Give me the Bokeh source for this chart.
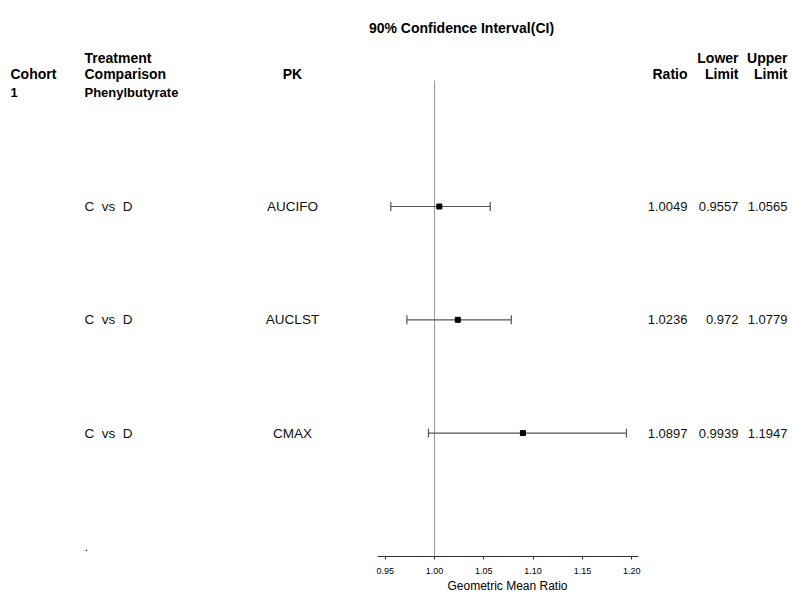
import math

from bokeh.plotting import figure
from bokeh.models import (ColumnDataSource, Range1d, LinearAxis, FixedTicker,
                          NumeralTickFormatter, Title)
from bokeh.core.properties import value
from bokeh.embed import file_html
from bokeh.resources import INLINE

# ---- data -------------------------------------------------------------
cohort = "1"
group_label = "Phenylbutyrate"
comparisons = ["C\u00a0\u00a0vs\u00a0\u00a0D", "C\u00a0\u00a0vs\u00a0\u00a0D", "C\u00a0\u00a0vs\u00a0\u00a0D"]
pk_params = ["AUCIFO", "AUCLST", "CMAX"]
ratio = [1.0049, 1.0236, 1.0897]
lower = [0.9557, 0.972, 0.9939]
upper = [1.0565, 1.0779, 1.1947]
rows = [1, 2, 3]          # row index of each comparison (0 = group header)
trailer_row = 4           # empty trailing row, printed as "."
ticks = [0.95, 1.00, 1.05, 1.10, 1.15, 1.20]
axis_bounds = (0.942, 1.207)
ref_value = 1.0

# ---- layout -----------------------------------------------------------
W, H = 793, 593
BOTTOM = 37                 # room for the ratio axis
FRAME_H = H - BOTTOM
PX_PER_UNIT = 986.0         # horizontal scale of the ratio axis
X_AT_ONE = 434.0            # pixel column of ratio == 1
ROW0_PX = 206.0 - 113.3     # pixel line of row 0
ROW_STEP = 113.3
FONT = "Liberation Sans"

p = figure(width=W, height=H, output_backend="svg", toolbar_location=None,
           x_range=Range1d(0, W), y_range=Range1d(FRAME_H, 0),
           x_axis_type=None, y_axis_type=None,
           min_border=0, min_border_bottom=BOTTOM)
p.outline_line_color = None
p.background_fill_color = "white"
p.border_fill_color = "white"

p.extra_x_ranges = {"ratio": Range1d(1 - X_AT_ONE / PX_PER_UNIT,
                                     1 + (W - X_AT_ONE) / PX_PER_UNIT)}
p.extra_y_ranges = {"rows": Range1d((FRAME_H - ROW0_PX) / ROW_STEP,
                                    -ROW0_PX / ROW_STEP)}


def label(x, y, s, size="14px", bold=True, align="left", baseline="alphabetic"):
    p.text(x=[x], y=[y], text=[s], text_font=value(FONT), text_font_size=size,
           text_font_style="bold" if bold else "normal", text_align=align,
           text_baseline=baseline, text_color="black")


# ---- column headers ---------------------------------------------------
label(461, 27, "90% Confidence Interval(CI)", align="center")
label(10, 73, "Cohort")
label(84, 57, "Treatment")
label(84, 73, "Comparison")
label(292, 73, "PK", align="center")
label(687, 73, "Ratio", align="right")
label(738, 57, "Lower", align="right")
label(738, 73, "Limit", align="right")
label(787, 57, "Upper", align="right")
label(787, 73, "Limit", align="right")

# ---- group header row and trailing row --------------------------------
for x, s in [(10, cohort), (84, group_label)]:
    p.text(x=[x], y=[-0.01], text=[s], y_range_name="rows", text_font=value(FONT),
           text_font_size="13px", text_font_style="bold", text_baseline="middle",
           text_color="black")
p.text(x=[84], y=[trailer_row], text=["."], y_range_name="rows",
       text_font=value(FONT), text_font_size="13px", text_baseline="middle",
       text_color="black")

# ---- table body ---------------------------------------------------------
src = ColumnDataSource(dict(
    row=rows, comp=comparisons, pk=pk_params,
    ratio=ratio, lower=lower, upper=upper,
    ratio_txt=[f"{v:g}" for v in ratio],
    lower_txt=[f"{v:g}" for v in lower],
    upper_txt=[f"{v:g}" for v in upper],
))

body = dict(source=src, y_range_name="rows", text_font=value(FONT),
            text_baseline="middle", text_color="#111111")
p.text(x=84, y="row", text="comp", text_font_size="13.5px", **body)
p.text(x=292, y="row", text="pk", text_font_size="13.5px", text_align="center", **body)
p.text(x=687, y="row", text="ratio_txt", text_font_size="13px", text_align="right", **body)
p.text(x=738, y="row", text="lower_txt", text_font_size="13px", text_align="right", **body)
p.text(x=787, y="row", text="upper_txt", text_font_size="13px", text_align="right", **body)

# ---- forest plot ------------------------------------------------------
p.segment(x0=[ref_value], y0=[80], x1=[ref_value], y1=[FRAME_H],
          x_range_name="ratio", line_color="#9a9a9a", line_width=1)

p.segment(x0="lower", y0="row", x1="upper", y1="row", source=src,
          x_range_name="ratio", y_range_name="rows",
          line_color="#555555", line_width=1.2)
for col in ("lower", "upper"):
    p.scatter(x=col, y="row", source=src, marker="dash", angle=math.pi / 2,
              size=9, line_color="#555555", line_width=1.2,
              x_range_name="ratio", y_range_name="rows")
p.scatter(x="ratio", y="row", source=src, marker="square", size=5,
          fill_color="black", line_color="black",
          x_range_name="ratio", y_range_name="rows")

ax = LinearAxis(x_range_name="ratio", ticker=FixedTicker(ticks=ticks),
                bounds=axis_bounds)
ax.formatter = NumeralTickFormatter(format="0.00")
ax.axis_line_color = "#333333"
ax.major_tick_line_color = "#333333"
ax.minor_tick_line_color = None
ax.major_tick_in = 0
ax.major_tick_out = 3
ax.major_label_standoff = 8
ax.major_label_text_font = FONT
ax.major_label_text_font_size = "9px"
ax.major_label_text_color = "black"
p.add_layout(ax, "below")

# axis title, placed under the drawn extent of the ratio axis
p.add_layout(Title(text="Geometric Mean Ratio", align="left", offset=447,
                   standoff=0, text_font=FONT, text_font_size="12px",
                   text_font_style="normal", text_color="black"), "below")

open("out.html", "w").write(file_html(p, INLINE))
